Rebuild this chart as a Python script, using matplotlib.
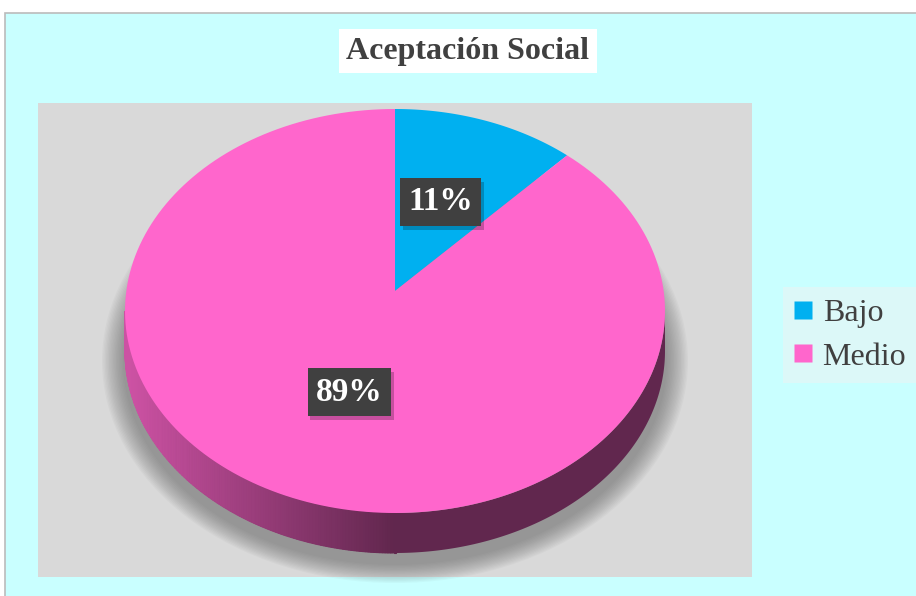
import numpy as np
import matplotlib.pyplot as plt
from matplotlib.colors import to_rgb
from matplotlib.patches import Rectangle, Ellipse
from matplotlib.lines import Line2D
import matplotlib.patheffects as pe

plt.rcParams['font.family'] = ['Liberation Serif', 'DejaVu Serif']

title = 'Aceptación Social'
categories = ['Bajo', 'Medio']
values = [11, 89]
colors = ['#00B0F0', '#FF66CC']

fig = plt.figure(figsize=(9.16, 5.96), dpi=100)
fig.patch.set_facecolor('white')
ax = fig.add_axes([0, 0, 1, 1])
ax.set_xlim(0, 916)
ax.set_ylim(596, 0)
ax.axis('off')

# chart frame and plot area
ax.add_patch(Rectangle((5, 13), 920, 600, fc='#C9FFFF', ec='#BBBBBB', lw=1.2, zorder=0))
ax.add_patch(Rectangle((38, 103), 714, 474, fc='#D9D9D9', ec='none', zorder=1))

# pie geometry (pixels)
cx, cy, rx, ry = 395, 311, 270, 202
depth = 40
apex = (cx, cy - 20)

def edge(phi):
    # phi in degrees, clockwise from the top
    r = np.radians(phi)
    return cx + rx * np.sin(r), cy - ry * np.cos(r)

# soft shadow
clip = Rectangle((38, 103), 714, 474, transform=ax.transData)
for i in range(16):
    e = Ellipse((cx, cy + depth + 10), 2 * (rx + 2 + i * 1.4), 2 * (ry + 2 + i * 1.2),
                fc='#606060', ec='none', alpha=0.045, zorder=2)
    e.set_clip_path(clip)
    ax.add_patch(e)

fracs = np.array(values) / sum(values)
bounds = np.concatenate([[0], np.cumsum(fracs) * 360])

def slice_of(phi):
    return int(np.searchsorted(bounds, phi % 360, side='right') - 1)

# side of the pie
phis = np.linspace(90, 270, 300)
xs, ys = edge(phis)
base_col = np.array(to_rgb(colors[slice_of(180)])) * 0.38
ax.fill(np.concatenate([xs, xs[::-1]]), np.concatenate([ys, ys[::-1] + depth]),
        color=base_col, lw=0, zorder=3)
for a, b in zip(phis[:-1], phis[1:]):
    x1, y1 = edge(a)
    x2, y2 = edge(b)
    xm = (x1 + x2) / 2
    if xm > cx:
        continue
    base = np.array(to_rgb(colors[slice_of((a + b) / 2)]))
    t = np.clip((cx - xm) / (rx - 5), 0, 1)
    f = 0.38 + 0.42 * t
    ax.fill([x1, x2, x2, x1], [y1, y2, y2 + depth, y1 + depth],
            color=np.clip(base * f, 0, 1), lw=0.8, zorder=3)

# top of the pie
for i, col in enumerate(colors):
    ph = np.linspace(bounds[i], bounds[i + 1], 200)
    px, py = edge(ph)
    ax.fill(np.concatenate([[apex[0]], px]), np.concatenate([[apex[1]], py]),
            color=col, lw=0, zorder=4)

# data labels
for i, v in enumerate(values):
    mid = np.radians((bounds[i] + bounds[i + 1]) / 2)
    lx = apex[0] + 0.5 * rx * np.sin(mid)
    ly = apex[1] - 0.5 * ry * np.cos(mid) + 6
    t = ax.text(lx, ly, f'{v}%', fontsize=24, fontweight='bold', color='white',
                ha='center', va='center', zorder=6,
                bbox=dict(boxstyle='square,pad=0.25', fc='#404040', ec='none'))
    t.get_bbox_patch().set_path_effects([
        pe.SimplePatchShadow(offset=(2, -3), shadow_rgbFace='black', alpha=0.22),
        pe.Normal()])

# title
ax.text(468, 51, title, fontsize=23, fontweight='bold', color='#404040',
        ha='center', va='center', zorder=6,
        bbox=dict(boxstyle='square,pad=0.25', fc='white', ec='none'))

# legend
handles = [Line2D([], [], ls='none', marker='s', ms=12.5, mfc=c, mec='none') for c in colors]
leg = ax.legend(handles, categories, loc='center', bbox_to_anchor=(850, 335),
                bbox_transform=ax.transData, fontsize=23, frameon=True,
                handlelength=0.6, handletextpad=0.3, labelspacing=0.45,
                borderpad=0.35, fancybox=False)
leg.get_frame().set_facecolor('#DCF8F8')
leg.get_frame().set_edgecolor('none')
leg.get_frame().set_alpha(1)
for txt in leg.get_texts():
    txt.set_color('#404040')

fig.savefig('out.png', dpi=100)
